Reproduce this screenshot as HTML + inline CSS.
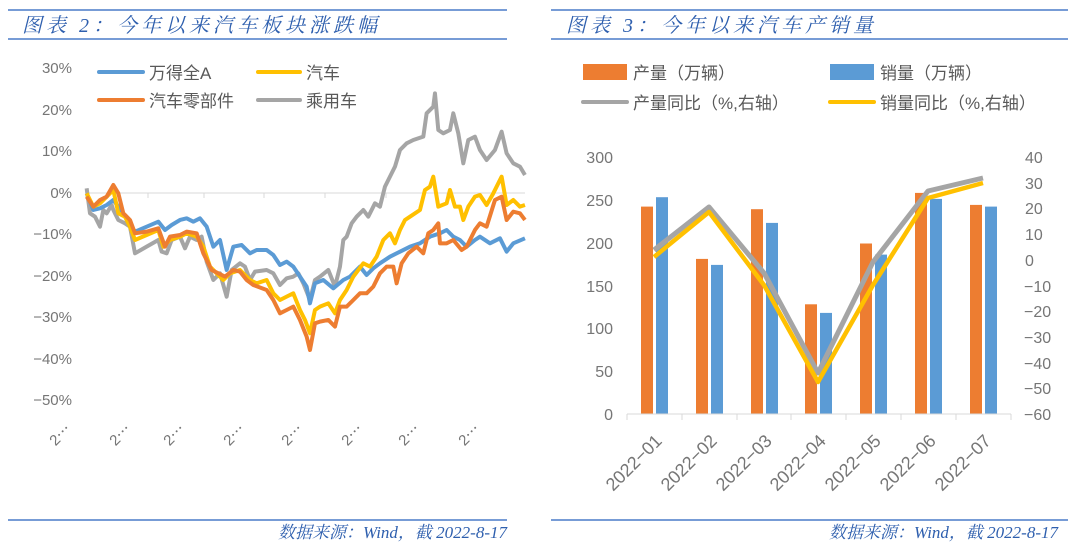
<!DOCTYPE html>
<html><head><meta charset="utf-8"><style>
body{margin:0;background:#fff;width:1080px;height:552px;overflow:hidden;font-family:"Liberation Sans","Noto Sans CJK SC",sans-serif;}
svg{position:absolute;left:0;top:0}
</style></head><body>
<svg width="1080" height="552" viewBox="0 0 1080 552" font-family="Liberation Sans, Noto Sans CJK SC, sans-serif">
<g stroke="#4a7cc9" stroke-width="1.5">
<line x1="8" y1="10" x2="507" y2="10"/><line x1="8" y1="39" x2="507" y2="39"/>
<line x1="551" y1="10" x2="1068" y2="10"/><line x1="551" y1="39" x2="1068" y2="39"/>
<line x1="8" y1="520" x2="507" y2="520"/><line x1="551" y1="520" x2="1068" y2="520"/>
</g>
<g fill="#2e5fae" font-style="italic" font-family="Liberation Serif, Noto Serif CJK SC, serif">
<text x="22" y="32" font-size="20" letter-spacing="4">图表 2：今年以来汽车板块涨跌幅</text>
<text x="566" y="32" font-size="20" letter-spacing="4">图表 3：今年以来汽车产销量</text>
<text x="507" y="538" font-size="17" text-anchor="end">数据来源：Wind，截 2022-8-17</text>
<text x="1058" y="538" font-size="17" text-anchor="end">数据来源：Wind，截 2022-8-17</text>
</g>
<g fill="#767676" font-size="15" text-anchor="end">
<text x="72" y="73">30%</text><text x="72" y="115">20%</text><text x="72" y="156">10%</text><text x="72" y="198">0%</text>
<text x="72" y="239">−10%</text><text x="72" y="281">−20%</text><text x="72" y="322">−30%</text><text x="72" y="364">−40%</text><text x="72" y="405">−50%</text>
</g>
<line x1="87" y1="193" x2="525" y2="193" stroke="#d9d9d9" stroke-width="1"/>
<g stroke="#d9d9d9"><line x1="148" y1="193" x2="148" y2="198"/><line x1="204" y1="193" x2="204" y2="198"/><line x1="264" y1="193" x2="264" y2="198"/><line x1="325" y1="193" x2="325" y2="198"/><line x1="386" y1="193" x2="386" y2="198"/><line x1="447" y1="193" x2="447" y2="198"/></g>
<g fill="#767676" font-size="15">
<text transform="translate(72,430) rotate(-45)" text-anchor="end">2⋯</text>
<text transform="translate(132,430) rotate(-45)" text-anchor="end">2⋯</text>
<text transform="translate(186,430) rotate(-45)" text-anchor="end">2⋯</text>
<text transform="translate(246,430) rotate(-45)" text-anchor="end">2⋯</text>
<text transform="translate(304,430) rotate(-45)" text-anchor="end">2⋯</text>
<text transform="translate(364,430) rotate(-45)" text-anchor="end">2⋯</text>
<text transform="translate(421,430) rotate(-45)" text-anchor="end">2⋯</text>
<text transform="translate(481,430) rotate(-45)" text-anchor="end">2⋯</text>
</g>
<g stroke-width="4" stroke-linecap="round">
<line x1="99" y1="72" x2="143" y2="72" stroke="#5b9bd5"/>
<line x1="258" y1="72" x2="300" y2="72" stroke="#ffc000"/>
<line x1="99" y1="100" x2="143" y2="100" stroke="#ed7d31"/>
<line x1="258" y1="100" x2="300" y2="100" stroke="#a5a5a5"/>
</g>
<g fill="#595959" font-size="17">
<text x="149" y="79">万得全A</text><text x="306" y="79">汽车</text>
<text x="149" y="107">汽车零部件</text><text x="306" y="107">乘用车</text>
</g>
<g transform="translate(80,80) scale(0.3333)" fill="none" stroke-width="12" stroke-linejoin="round">
<polyline stroke="#a5a5a5" points="20,325 30,400 45,410 60,440 70,390 80,400 95,375 100,390 115,420 135,430 150,440 165,520 200,500 235,480 245,515 260,520 275,480 300,470 315,505 330,470 350,480 365,470 380,545 400,600 420,580 440,650 455,570 480,550 495,560 510,600 525,575 560,570 580,580 600,615 620,595 640,590 655,580 670,610 690,660 705,600 720,590 745,570 765,620 780,560 790,480 800,470 815,430 830,410 850,390 865,410 885,370 900,380 915,320 930,290 945,260 960,210 980,190 1000,180 1030,170 1040,100 1060,80 1065,40 1075,150 1090,160 1110,150 1120,100 1135,160 1150,250 1165,180 1185,170 1200,210 1220,240 1245,210 1265,155 1280,220 1300,250 1320,260 1335,285"/>
<polyline stroke="#5b9bd5" points="20,340 40,390 60,385 80,375 100,360 115,380 135,410 150,435 165,455 235,425 255,450 275,435 300,420 320,415 340,425 360,415 380,440 400,500 420,480 440,570 460,500 485,495 510,520 530,510 560,510 580,525 600,555 620,545 640,560 660,590 680,620 690,670 705,610 730,600 760,625 790,600 810,590 840,560 860,585 880,565 900,550 930,530 960,515 990,500 1020,490 1050,470 1080,460 1100,450 1120,470 1140,480 1160,500 1185,480 1200,470 1230,490 1260,475 1280,515 1300,490 1335,475"/>
<polyline stroke="#ffc000" points="20,340 40,380 60,370 80,350 100,330 115,400 135,410 150,440 165,480 200,465 235,450 250,500 270,480 300,470 320,460 350,470 370,500 390,560 410,580 430,600 450,580 480,570 510,600 530,610 560,600 580,640 600,660 620,650 640,640 660,690 675,720 690,760 705,690 720,680 745,670 765,700 780,660 800,630 820,590 850,550 870,560 890,530 910,480 930,460 945,490 960,450 975,420 990,410 1020,390 1035,330 1050,320 1060,290 1075,380 1100,370 1110,330 1125,380 1140,380 1150,420 1165,380 1185,350 1200,345 1220,375 1240,340 1265,290 1280,375 1300,360 1320,380 1335,375"/>
<polyline stroke="#ed7d31" points="20,350 40,380 60,360 80,350 100,315 115,340 130,400 150,420 165,460 200,455 235,445 255,500 270,470 300,465 320,455 350,460 370,520 395,570 415,580 435,590 460,570 480,575 500,600 520,615 560,630 580,660 600,700 620,690 640,680 660,720 680,770 690,810 705,730 720,725 745,720 765,740 780,680 800,680 820,660 840,640 860,640 880,620 900,580 920,560 940,560 950,610 965,550 985,520 1010,500 1030,520 1045,460 1060,450 1075,430 1080,490 1100,490 1120,480 1145,510 1160,500 1185,450 1200,430 1220,440 1245,360 1265,350 1280,420 1300,395 1320,400 1335,420"/>
</g>
<rect x="583" y="64" width="44" height="16" fill="#ed7d31"/>
<rect x="830" y="64" width="44" height="16" fill="#5b9bd5"/>
<line x1="583" y1="102" x2="627" y2="102" stroke="#a5a5a5" stroke-width="4" stroke-linecap="round"/>
<line x1="830" y1="102" x2="874" y2="102" stroke="#ffc000" stroke-width="4" stroke-linecap="round"/>
<g fill="#595959" font-size="17">
<text x="633" y="79">产量（万辆）</text><text x="880" y="79">销量（万辆）</text>
<text x="633" y="109">产量同比（%,右轴）</text><text x="880" y="109">销量同比（%,右轴）</text>
</g>
<g fill="#767676" font-size="16" text-anchor="end">
<text x="613" y="163">300</text><text x="613" y="206">250</text><text x="613" y="249">200</text><text x="613" y="292">150</text><text x="613" y="334">100</text><text x="613" y="377">50</text><text x="613" y="420">0</text>
</g>
<g fill="#767676" font-size="16" text-anchor="start">
<text x="1025" y="163">40</text><text x="1025" y="189">30</text><text x="1025" y="214">20</text><text x="1025" y="240">10</text><text x="1025" y="266">0</text>
<text x="1024" y="292">−10</text><text x="1024" y="317">−20</text><text x="1024" y="343">−30</text><text x="1024" y="369">−40</text><text x="1024" y="394">−50</text><text x="1024" y="420">−60</text>
</g>
<g fill="#ed7d31">
<rect x="641" y="206.6" width="12" height="207.4"/><rect x="696" y="258.9" width="12" height="155.1"/><rect x="751" y="209.2" width="12" height="204.8"/><rect x="805" y="304.3" width="12" height="109.7"/><rect x="860" y="243.5" width="12" height="170.5"/><rect x="915" y="192.9" width="12" height="221.1"/><rect x="970" y="204.9" width="12" height="209.1"/>
</g>
<g fill="#5b9bd5">
<rect x="656" y="197.2" width="12" height="216.8"/><rect x="711" y="264.9" width="12" height="149.1"/><rect x="766" y="222.9" width="12" height="191.1"/><rect x="820" y="312.9" width="12" height="101.1"/><rect x="875" y="254.6" width="12" height="159.4"/><rect x="930" y="198.9" width="12" height="215.1"/><rect x="985" y="206.6" width="12" height="207.4"/>
</g>
<line x1="627" y1="414" x2="1011" y2="414" stroke="#d9d9d9"/>
<g stroke="#d9d9d9"><line x1="627" y1="414" x2="627" y2="420"/><line x1="682" y1="414" x2="682" y2="420"/><line x1="737" y1="414" x2="737" y2="420"/><line x1="791" y1="414" x2="791" y2="420"/><line x1="846" y1="414" x2="846" y2="420"/><line x1="901" y1="414" x2="901" y2="420"/><line x1="956" y1="414" x2="956" y2="420"/><line x1="1011" y1="414" x2="1011" y2="420"/></g>
<polyline fill="none" stroke="#a5a5a5" stroke-width="5" stroke-linejoin="round" points="654,250 709,207 764,273 818,373 873,262 928,191 983,178"/>
<polyline fill="none" stroke="#ffc000" stroke-width="4.5" stroke-linejoin="round" points="654,257 709,212 764,285 818,382 873,285 928,198 983,183"/>
<g fill="#767676" font-size="18" text-anchor="end">
<text transform="translate(663,442) rotate(-45)">2022−01</text>
<text transform="translate(718,442) rotate(-45)">2022−02</text>
<text transform="translate(773,442) rotate(-45)">2022−03</text>
<text transform="translate(827,442) rotate(-45)">2022−04</text>
<text transform="translate(882,442) rotate(-45)">2022−05</text>
<text transform="translate(937,442) rotate(-45)">2022−06</text>
<text transform="translate(992,442) rotate(-45)">2022−07</text>
</g>
</svg>
</body></html>
